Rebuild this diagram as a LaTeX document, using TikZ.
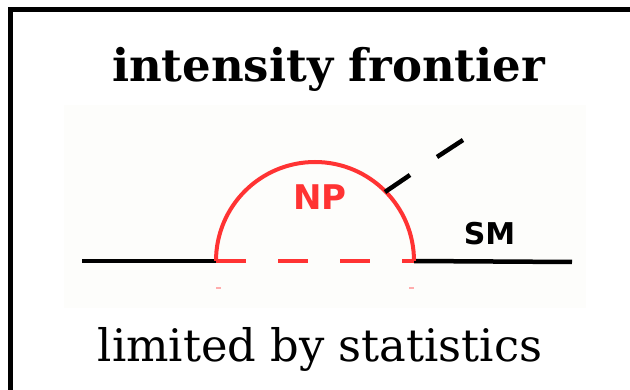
\documentclass[tikz,border=0pt]{standalone}
\usepackage{fontspec}
\setmainfont{DejaVu Serif}
\newfontfamily\lblfont{DejaVu Sans}
\definecolor{npred}{HTML}{FF3333}
\definecolor{bgfaint}{HTML}{FDFDFB}
\tikzset{
  blackline/.style={line width=4.5pt, black},
  redline/.style={line width=4pt, npred},
  reddash/.style={line width=4pt, npred, dash pattern=on 30pt off 32pt},
  blackdash/.style={line width=4.5pt, black},
}
\begin{document}
\begin{tikzpicture}[x=1pt,y=-1pt]
\useasboundingbox (0,0) rectangle (630,390);
\begin{scope}
\clip (0,0) rectangle (630,390);
\draw[line width=5pt] (10,10) rectangle (645,405);
\end{scope}
\fill[bgfaint] (64,105) rectangle (586,308);
\node[inner sep=0pt, anchor=base] (title) at (328.5,82) {\fontsize{45}{48}\selectfont\bfseries intensity frontier};
\node[inner sep=0pt, anchor=base] (bottom) at (320,362) {\fontsize{44.8}{48}\selectfont limited by statistics};
\coordinate (L) at (82,261);
\coordinate (A) at (216,261);
\coordinate (B) at (414,261);
\coordinate (R) at (572,262);
\draw[blackline] (L) -- (A);
\draw[blackline] (B) -- (R);
\draw[reddash] (A) -- (B);
\draw[redline] (A) arc[start angle=180, end angle=360, radius=99];
\coordinate (d1a) at (385,192);
\coordinate (d1b) at (410,175);
\coordinate (d2a) at (437,157);
\coordinate (d2b) at (463,140);
\draw[blackdash] (d1a) -- (d1b);
\draw[blackdash] (d2a) -- (d2b);
\node[text=npred, font=\lblfont\bfseries\fontsize{34}{36}\selectfont] (np) at (320,197.5) {NP};
\node[font=\lblfont\bfseries\fontsize{30}{32}\selectfont] (sm) at (489.5,234) {SM};
\draw[line width=1.5pt, npred!40] (216,288) -- (221,288);
\draw[line width=1.5pt, npred!40] (409,288) -- (414,288);
\end{tikzpicture}
\end{document}
